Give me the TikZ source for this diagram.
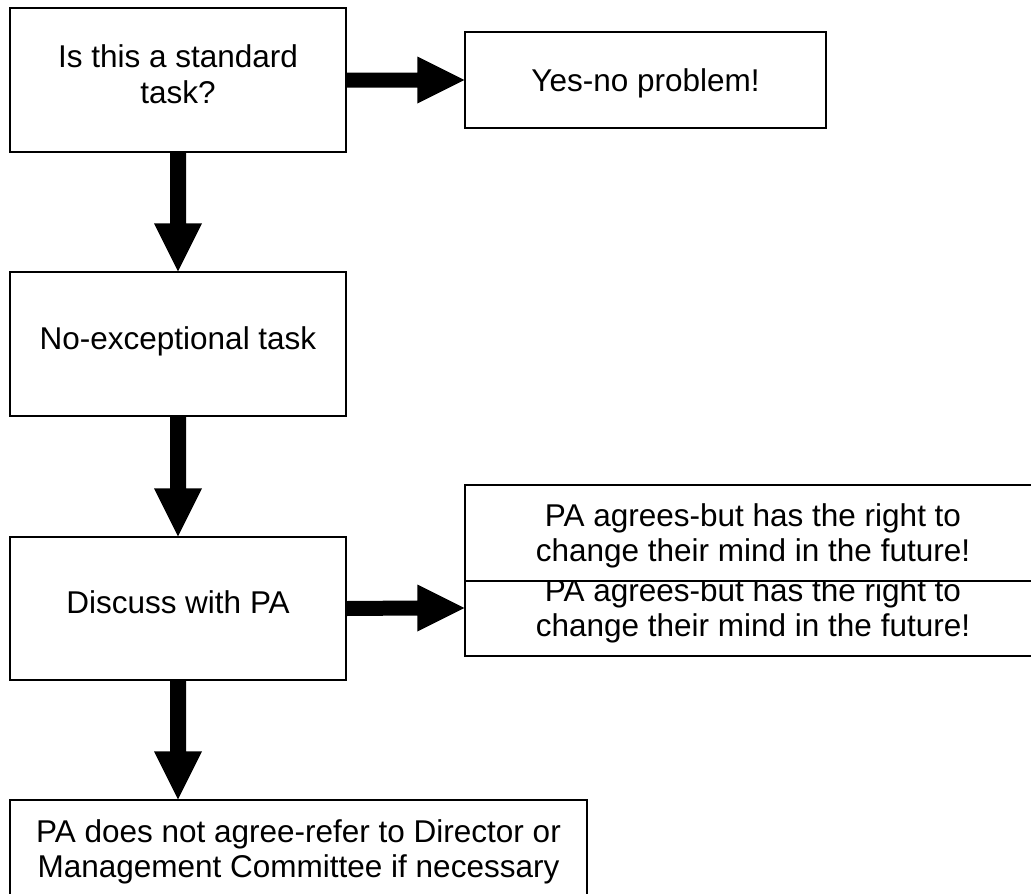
\documentclass[tikz,border=0pt]{standalone}
\usepackage{fontspec}
\setmainfont{Liberation Sans}
\usetikzlibrary{calc}
\tikzset{
  box/.style={draw=black, line width=1.4pt, fill=white, rectangle, inner sep=0pt},
  txt/.style={inner sep=0pt, align=center, font=\fontsize{31.5}{35.5}\selectfont, anchor=base},
  blockarrow/.style={fill=black, draw=none}
}
\begin{document}
\begin{tikzpicture}[x=1pt,y=-1pt]
\useasboundingbox (0,0) rectangle (1031,894);
\clip (0,0) rectangle (1031,894);
\fill[white] (0,0) rectangle (1031,894);
% boxes
\node[box, minimum width=336pt, minimum height=144pt] (b1) at (178,80) {};
\node[box, minimum width=361pt, minimum height=96pt] (b2) at (645.5,80) {};
\node[box, minimum width=336pt, minimum height=144pt] (b3) at (178,344) {};
\node[box, minimum width=336pt, minimum height=143pt] (b4) at (178,608.5) {};
\node[box, minimum width=576pt, minimum height=96pt] (b5b) at (753,608) {};
\node[txt] (t5b) at (753,636.7) {PA agrees-but has the right to\\change their mind in the future!};
\node[box, minimum width=576pt, minimum height=96pt] (b5a) at (753,533) {};
\node[box, minimum width=577pt, minimum height=144pt] (b6) at (298.5,872) {};
% texts (base anchor = baseline of last line)
\node[txt] (t1) at (178,103) {Is this a standard\\task?};
\node[txt] (t2) at (645.5,91) {Yes-no problem!};
\node[txt] (t3) at (178,349) {No-exceptional task};
\node[txt] (t4) at (178,613) {Discuss with PA};
\node[txt] (t5a) at (753,561.7) {PA agrees-but has the right to\\change their mind in the future!};
\node[txt] (t6) at (298.5,877.7) {PA does not agree-refer to Director or\\Management Committee if necessary};
\coordinate (b6in) at (b4.south |- b6.north);
% block arrows: right
\fill[blockarrow] ($(b1.east)+(0,-7.5)$) -- ($(b2.west)+(-47,-7.5)$) -- ($(b2.west)+(-47,-23.5)$) -- (b2.west)
  -- ($(b2.west)+(-47,23.5)$) -- ($(b2.west)+(-47,7.5)$) -- ($(b1.east)+(0,7.5)$) -- cycle;
\fill[blockarrow] ($(b4.east)+(0,-7.5)$) -- ($(b5b.west)+(-47,-7.5)$) -- ($(b5b.west)+(-47,-23.5)$) -- (b5b.west)
  -- ($(b5b.west)+(-47,23.5)$) -- ($(b5b.west)+(-47,7.5)$) -- ($(b4.east)+(0,7.5)$) -- cycle;
% block arrows: down
\fill[blockarrow] ($(b1.south)+(-8,0)$) -- ($(b3.north)+(-8,-48)$) -- ($(b3.north)+(-24,-48)$) -- (b3.north)
  -- ($(b3.north)+(24,-48)$) -- ($(b3.north)+(8,-48)$) -- ($(b1.south)+(8,0)$) -- cycle;
\fill[blockarrow] ($(b3.south)+(-8,0)$) -- ($(b4.north)+(-8,-48)$) -- ($(b4.north)+(-24,-48)$) -- (b4.north)
  -- ($(b4.north)+(24,-48)$) -- ($(b4.north)+(8,-48)$) -- ($(b3.south)+(8,0)$) -- cycle;
\fill[blockarrow] ($(b4.south)+(-8,0)$) -- ($(b6in)+(-8,-48)$) -- ($(b6in)+(-24,-48)$) -- (b6in)
  -- ($(b6in)+(24,-48)$) -- ($(b6in)+(8,-48)$) -- ($(b4.south)+(8,0)$) -- cycle;
\end{tikzpicture}
\end{document}
